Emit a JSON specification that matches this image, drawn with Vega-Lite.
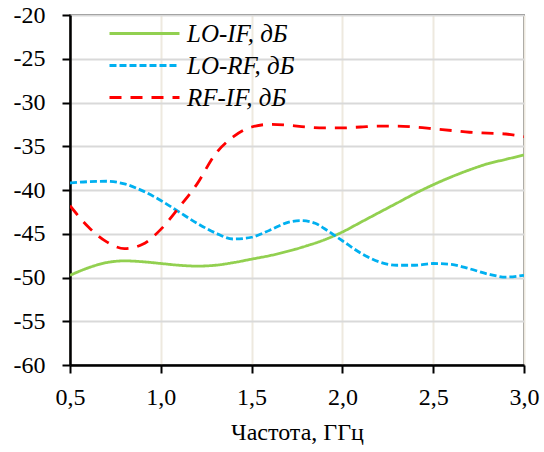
{
  "$schema": "https://vega.github.io/schema/vega-lite/v6.json",
  "width": 454,
  "height": 350,
  "autosize": "none",
  "padding": {"left": 70, "top": 15, "right": 20, "bottom": 87},
  "background": "white",
  "config": {
    "font": "Liberation Serif",
    "view": {"stroke": "#404040", "strokeWidth": 1.5}
  },
  "data": {
    "values": [
      {"f": 0.5, "v": -49.75, "s": "LO-IF, дБ"},
      {"f": 0.6, "v": -48.9, "s": "LO-IF, дБ"},
      {"f": 0.7, "v": -48.3, "s": "LO-IF, дБ"},
      {"f": 0.8, "v": -48.1, "s": "LO-IF, дБ"},
      {"f": 0.9, "v": -48.2, "s": "LO-IF, дБ"},
      {"f": 1.0, "v": -48.4, "s": "LO-IF, дБ"},
      {"f": 1.1, "v": -48.6, "s": "LO-IF, дБ"},
      {"f": 1.2, "v": -48.7, "s": "LO-IF, дБ"},
      {"f": 1.3, "v": -48.6, "s": "LO-IF, дБ"},
      {"f": 1.4, "v": -48.3, "s": "LO-IF, дБ"},
      {"f": 1.5, "v": -47.9, "s": "LO-IF, дБ"},
      {"f": 1.6, "v": -47.5, "s": "LO-IF, дБ"},
      {"f": 1.7, "v": -47.0, "s": "LO-IF, дБ"},
      {"f": 1.8, "v": -46.4, "s": "LO-IF, дБ"},
      {"f": 1.9, "v": -45.7, "s": "LO-IF, дБ"},
      {"f": 2.0, "v": -44.8, "s": "LO-IF, дБ"},
      {"f": 2.1, "v": -43.7, "s": "LO-IF, дБ"},
      {"f": 2.2, "v": -42.6, "s": "LO-IF, дБ"},
      {"f": 2.3, "v": -41.5, "s": "LO-IF, дБ"},
      {"f": 2.4, "v": -40.4, "s": "LO-IF, дБ"},
      {"f": 2.5, "v": -39.4, "s": "LO-IF, дБ"},
      {"f": 2.6, "v": -38.5, "s": "LO-IF, дБ"},
      {"f": 2.7, "v": -37.7, "s": "LO-IF, дБ"},
      {"f": 2.8, "v": -37.0, "s": "LO-IF, дБ"},
      {"f": 2.9, "v": -36.5, "s": "LO-IF, дБ"},
      {"f": 3.0, "v": -36.0, "s": "LO-IF, дБ"},

      {"f": 0.5, "v": -39.2, "s": "LO-RF, дБ"},
      {"f": 0.6, "v": -39.05, "s": "LO-RF, дБ"},
      {"f": 0.7, "v": -39.0, "s": "LO-RF, дБ"},
      {"f": 0.8, "v": -39.3, "s": "LO-RF, дБ"},
      {"f": 0.9, "v": -40.1, "s": "LO-RF, дБ"},
      {"f": 1.0, "v": -41.2, "s": "LO-RF, дБ"},
      {"f": 1.1, "v": -42.5, "s": "LO-RF, дБ"},
      {"f": 1.2, "v": -43.8, "s": "LO-RF, дБ"},
      {"f": 1.3, "v": -44.9, "s": "LO-RF, дБ"},
      {"f": 1.4, "v": -45.6, "s": "LO-RF, дБ"},
      {"f": 1.5, "v": -45.4, "s": "LO-RF, дБ"},
      {"f": 1.6, "v": -44.6, "s": "LO-RF, дБ"},
      {"f": 1.7, "v": -43.7, "s": "LO-RF, дБ"},
      {"f": 1.77, "v": -43.5, "s": "LO-RF, дБ"},
      {"f": 1.85, "v": -43.8, "s": "LO-RF, дБ"},
      {"f": 1.9, "v": -44.4, "s": "LO-RF, дБ"},
      {"f": 2.0, "v": -45.8, "s": "LO-RF, дБ"},
      {"f": 2.1, "v": -47.2, "s": "LO-RF, дБ"},
      {"f": 2.2, "v": -48.2, "s": "LO-RF, дБ"},
      {"f": 2.3, "v": -48.6, "s": "LO-RF, дБ"},
      {"f": 2.4, "v": -48.6, "s": "LO-RF, дБ"},
      {"f": 2.5, "v": -48.4, "s": "LO-RF, дБ"},
      {"f": 2.6, "v": -48.5, "s": "LO-RF, дБ"},
      {"f": 2.7, "v": -49.0, "s": "LO-RF, дБ"},
      {"f": 2.8, "v": -49.6, "s": "LO-RF, дБ"},
      {"f": 2.9, "v": -49.95, "s": "LO-RF, дБ"},
      {"f": 3.0, "v": -49.75, "s": "LO-RF, дБ"},

      {"f": 0.5, "v": -41.8, "s": "RF-IF, дБ"},
      {"f": 0.6, "v": -44.2, "s": "RF-IF, дБ"},
      {"f": 0.7, "v": -45.9, "s": "RF-IF, дБ"},
      {"f": 0.8, "v": -46.7, "s": "RF-IF, дБ"},
      {"f": 0.9, "v": -46.2, "s": "RF-IF, дБ"},
      {"f": 1.0, "v": -44.5, "s": "RF-IF, дБ"},
      {"f": 1.1, "v": -42.0, "s": "RF-IF, дБ"},
      {"f": 1.2, "v": -39.3, "s": "RF-IF, дБ"},
      {"f": 1.3, "v": -35.9, "s": "RF-IF, дБ"},
      {"f": 1.4, "v": -33.9, "s": "RF-IF, дБ"},
      {"f": 1.5, "v": -32.8, "s": "RF-IF, дБ"},
      {"f": 1.6, "v": -32.5, "s": "RF-IF, дБ"},
      {"f": 1.7, "v": -32.6, "s": "RF-IF, дБ"},
      {"f": 1.8, "v": -32.8, "s": "RF-IF, дБ"},
      {"f": 1.9, "v": -32.9, "s": "RF-IF, дБ"},
      {"f": 2.0, "v": -32.9, "s": "RF-IF, дБ"},
      {"f": 2.1, "v": -32.8, "s": "RF-IF, дБ"},
      {"f": 2.2, "v": -32.7, "s": "RF-IF, дБ"},
      {"f": 2.3, "v": -32.7, "s": "RF-IF, дБ"},
      {"f": 2.4, "v": -32.8, "s": "RF-IF, дБ"},
      {"f": 2.5, "v": -33.0, "s": "RF-IF, дБ"},
      {"f": 2.6, "v": -33.2, "s": "RF-IF, дБ"},
      {"f": 2.7, "v": -33.4, "s": "RF-IF, дБ"},
      {"f": 2.8, "v": -33.5, "s": "RF-IF, дБ"},
      {"f": 2.9, "v": -33.6, "s": "RF-IF, дБ"},
      {"f": 3.0, "v": -33.9, "s": "RF-IF, дБ"}
    ]
  },
  "mark": {"type": "line", "interpolate": "monotone", "strokeWidth": 2.8, "clip": true},
  "encoding": {
    "x": {
      "field": "f", "type": "quantitative",
      "scale": {"domain": [0.5, 3.0], "nice": false, "zero": false},
      "axis": {
        "values": [0.5, 1.0, 1.5, 2.0, 2.5, 3.0],
        "format": ".1f",
        "labelExpr": "replace(datum.label, '.', ',')",
        "title": "Частота, ГГц",
        "titleFont": "Liberation Serif", "titleFontSize": 24, "titleFontWeight": "normal", "titleColor": "#000",
        "titlePadding": 11,
        "labelFont": "Liberation Serif", "labelFontSize": 24, "labelColor": "#000",
        "labelPadding": 12, "labelFlush": false, "labelOverlap": false,
        "domainColor": "#000", "domainWidth": 2.5,
        "tickColor": "#000", "tickWidth": 2, "tickSize": 8,
        "grid": true, "gridColor": "#eee9df", "gridWidth": 2
      }
    },
    "y": {
      "field": "v", "type": "quantitative",
      "scale": {"domain": [-60, -20], "nice": false, "zero": false},
      "axis": {
        "values": [-60, -55, -50, -45, -40, -35, -30, -25, -20],
        "labelExpr": "replace(datum.label, '−', '-')",
        "title": null,
        "labelFont": "Liberation Serif", "labelFontSize": 24, "labelColor": "#000",
        "labelPadding": 17, "labelOverlap": false,
        "domainColor": "#000", "domainWidth": 2.5,
        "tickColor": "#000", "tickWidth": 2, "tickSize": 8,
        "grid": true, "gridColor": "#d9d9d9", "gridWidth": 2
      }
    },
    "color": {
      "field": "s", "type": "nominal",
      "scale": {"domain": ["LO-IF, дБ", "LO-RF, дБ", "RF-IF, дБ"], "range": ["#92d050", "#00b0f0", "#ff0000"]},
      "legend": {
        "orient": "none", "legendX": 40, "legendY": 6,
        "title": null, "padding": 0,
        "symbolType": "M-7,0H7", "symbolSize": 100, "symbolStrokeWidth": 2.8, "symbolOffset": 22,
        "labelFont": "Liberation Serif", "labelFontSize": 25, "labelFontStyle": "italic", "labelColor": "#000",
        "labelOffset": 30, "rowPadding": 6
      }
    },
    "strokeDash": {
      "field": "s", "type": "nominal",
      "scale": {"domain": ["LO-IF, дБ", "LO-RF, дБ", "RF-IF, дБ"], "range": [[1, 0], [7, 3], [12, 9]]},
      "legend": {
        "orient": "none", "legendX": 40, "legendY": 6,
        "title": null, "padding": 0,
        "symbolType": "M-7,0H7", "symbolSize": 100, "symbolStrokeWidth": 2.8, "symbolOffset": 22,
        "labelFont": "Liberation Serif", "labelFontSize": 25, "labelFontStyle": "italic", "labelColor": "#000",
        "labelOffset": 30, "rowPadding": 6
      }
    }
  }
}
